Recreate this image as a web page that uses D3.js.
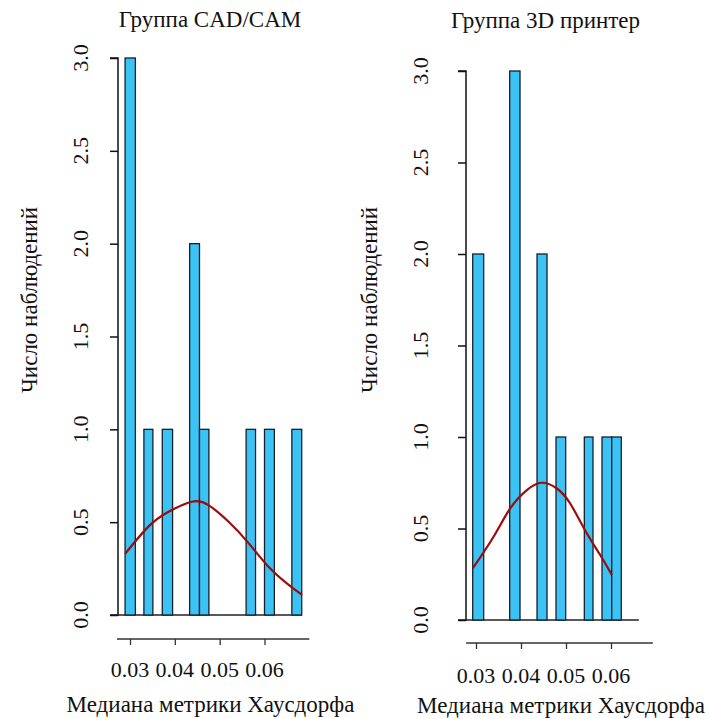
<!DOCTYPE html>
<html><head><meta charset="utf-8">
<script src="https://cdn.jsdelivr.net/npm/d3@7"></script>
<style>
html,body{margin:0;padding:0;background:#fff;}
svg{display:block;}
</style></head>
<body>
<svg id="chart" width="710" height="719"></svg>
<script>
// ---- data ----
const titles = ["Группа CAD/CAM", "Группа 3D принтер"];
const xLabel = "Медиана метрики Хаусдорфа";
const yLabel = "Число наблюдений";
const xTicks = [0.03, 0.04, 0.05, 0.06];
const xTickLabels = ["0.03", "0.04", "0.05", "0.06"];
const yTicks = [0, 0.5, 1, 1.5, 2, 2.5, 3];
const yTickLabels = ["0.0", "0.5", "1.0", "1.5", "2.0", "2.5", "3.0"];

const cadBinStart = [0.0289, 0.0331, 0.0372, 0.0433, 0.0455, 0.0559, 0.0600, 0.0661];
const cadBinEnd   = [0.0312, 0.0351, 0.0395, 0.0455, 0.0476, 0.0580, 0.0622, 0.0683];
const cadCounts   = [3, 1, 1, 2, 1, 1, 1, 1];
const cadCurveX = [0.0289, 0.0341, 0.0386, 0.0438, 0.0475, 0.0520, 0.0565, 0.0609, 0.0654, 0.0684];
const cadCurveY = [0.329, 0.476, 0.556, 0.610, 0.592, 0.502, 0.386, 0.260, 0.162, 0.108];
const cadBase = [0.0273, 0.0683];
const cadAxis = [0.0271, 0.0700];

const prnBinStart = [0.02927, 0.03749, 0.04356, 0.04778, 0.05407, 0.05800, 0.06016];
const prnBinEnd   = [0.03171, 0.03978, 0.04578, 0.04993, 0.05600, 0.06016, 0.06229];
const prnCounts   = [2, 3, 2, 1, 1, 1, 1];
const prnCurveX = [0.0293, 0.0339, 0.0376, 0.0413, 0.0446, 0.0479, 0.0509, 0.0542, 0.0576, 0.0602];
const prnCurveY = [0.283, 0.455, 0.610, 0.710, 0.750, 0.720, 0.638, 0.492, 0.355, 0.246];
const prnBase = [0.0278, 0.0662];
const prnAxis = [0.0278, 0.0693];

// ---- layout ----
const panels = [
  {title: titles[0], starts: cadBinStart, ends: cadBinEnd, counts: cadCounts, cx: cadCurveX, cy: cadCurveY, base: cadBase, axis: cadAxis,
   xr: [130, 264.5], yr: [615, 58], axisY: 639, yAxisX: 118, titleX: 210, titleY: 27, ylabX: 37, tickLabX: 88, xlabX: 210.5, xlabY: 712, tickLabY: 677},
  {title: titles[1], starts: prnBinStart, ends: prnBinEnd, counts: prnCounts, cx: prnCurveX, cy: prnCurveY, base: prnBase, axis: prnAxis,
   xr: [476, 611], yr: [620, 71], axisY: 643, yAxisX: 466, titleX: 545.5, titleY: 28, ylabX: 377, tickLabX: 428, xlabX: 561, xlabY: 713, tickLabY: 683}
];

const svg = d3.select("#chart");
const FONT = '"Liberation Serif", "Times New Roman", Times, serif';
const fs = 22;

function txt(g) {
  return g.append("text").style("font-family", FONT).attr("fill", "#111");
}

panels.forEach(p => {
  const x = d3.scaleLinear().domain([0.03, 0.06]).range(p.xr);
  const y = d3.scaleLinear().domain([0, 3]).range(p.yr);
  const g = svg.append("g");

  txt(g).attr("x", p.titleX).attr("y", p.titleY).attr("text-anchor", "middle")
    .style("font-size", "23px").text(p.title);

  g.append("line").attr("x1", x(p.base[0])).attr("x2", x(p.base[1]))
    .attr("y1", y(0)).attr("y2", y(0)).attr("stroke", "#222").attr("stroke-width", 1.3);

  const bins = p.counts.map((c, i) => ({x0: p.starts[i], x1: p.ends[i], c}));
  g.selectAll("rect.bar").data(bins).enter().append("rect").attr("class", "bar")
    .attr("x", d => x(d.x0)).attr("width", d => x(d.x1) - x(d.x0))
    .attr("y", d => y(d.c)).attr("height", d => y(0) - y(d.c))
    .attr("fill", "#3cc3f6").attr("stroke", "#15202b").attr("stroke-width", 1.3);

  const pts = p.cx.map((v, i) => [v, p.cy[i]]);
  g.append("path").datum(pts)
    .attr("d", d3.line().x(d => x(d[0])).y(d => y(d[1])).curve(d3.curveNatural))
    .attr("fill", "none").attr("stroke", "#9e0b0b").attr("stroke-width", 2.2);

  const ya = g.append("g").attr("transform", `translate(${p.yAxisX},0)`)
    .call(d3.axisLeft(y).tickValues(yTicks).tickSize(8).tickFormat(""));
  ya.select(".domain").attr("d", `M-8,${y(0)}H0V${y(3)}H-8`).attr("stroke", "#111").attr("stroke-width", 1.5);
  ya.selectAll(".tick line").attr("stroke", "#111").attr("stroke-width", 1.5);
  yTicks.forEach((t, i) => {
    txt(g).attr("transform", `translate(${p.tickLabX},${y(t)}) rotate(-90)`)
      .attr("text-anchor", "middle").style("font-size", fs + "px").text(yTickLabels[i]);
  });

  const xa = g.append("g").attr("transform", `translate(0,${p.axisY})`)
    .call(d3.axisBottom(x).tickValues(xTicks).tickSize(6).tickFormat(""));
  xa.select(".domain").attr("d", `M${x(p.axis[0])},0H${x(p.axis[1])}`).attr("stroke", "#333").attr("stroke-width", 1.3);
  xa.selectAll(".tick line").attr("stroke", "#333").attr("stroke-width", 1.3);
  xTicks.forEach((t, i) => {
    txt(g).attr("x", x(t)).attr("y", p.tickLabY).attr("text-anchor", "middle")
      .style("font-size", fs + "px").text(xTickLabels[i]);
  });

  txt(g).attr("x", p.xlabX).attr("y", p.xlabY).attr("text-anchor", "middle")
    .style("font-size", "23px").text(xLabel);
  txt(g).attr("transform", `translate(${p.ylabX},300) rotate(-90)`)
    .attr("text-anchor", "middle").style("font-size", "23px").text(yLabel);
});
</script>
</body></html>
